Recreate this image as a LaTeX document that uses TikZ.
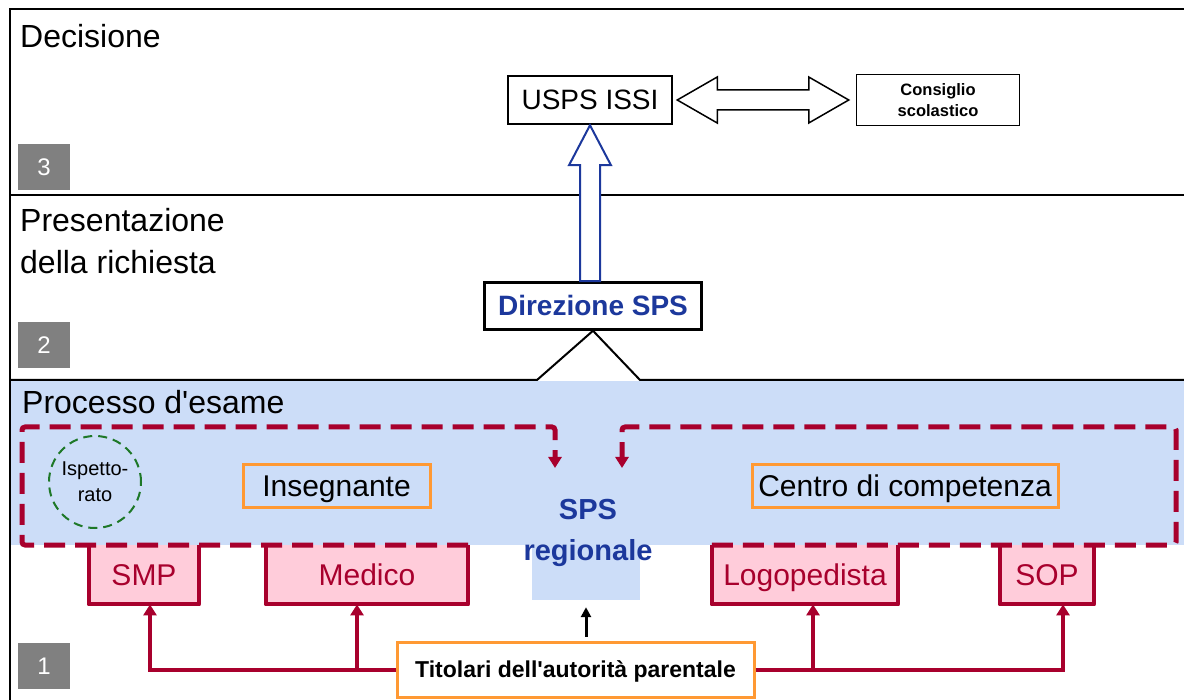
\documentclass[tikz,border=0pt]{standalone}
\usepackage{fontspec}
\setmainfont{Liberation Sans}[Ligatures=TeXOff]
\usetikzlibrary{arrows.meta,calc}
\definecolor{bgblue}{RGB}{204,221,248}
\definecolor{redc}{RGB}{168,0,45}
\definecolor{pinkc}{RGB}{255,204,218}
\definecolor{orangec}{RGB}{255,153,51}
\definecolor{bluec}{RGB}{28,56,156}
\definecolor{greyc}{RGB}{128,128,128}
\definecolor{greenc}{RGB}{30,120,40}
\newcommand\fsz[2]{\fontsize{#1}{#2}\selectfont}
\tikzset{
  btthirty/.style={font=\fsz{30}{34}, text height=24.5pt, text depth=3pt},
  bttwentyeight/.style={text height=23pt, text depth=3pt},
  frameline/.style={draw=black, line width=2pt},
  blackbox/.style={draw=black, line width=2.5pt, fill=white, inner sep=0pt, bttwentyeight},
  orangebox/.style={draw=orangec, line width=3pt, inner sep=0pt, btthirty},
  redbox/.style={fill=pinkc, inner sep=0pt, text=redc, anchor=north, minimum height=59pt, btthirty},
  numbox/.style={fill=greyc, text=white, minimum width=52pt, minimum height=46pt, inner sep=0pt, font=\fsz{24}{28}},
  title/.style={anchor=base west, inner sep=0pt, font=\fsz{32}{42}, align=left},
  redside/.style={draw=redc, line width=4pt},
  reddash/.style={draw=redc, line width=5pt, dash pattern=on 21pt off 10pt, rounded corners=3pt},
  redline/.style={draw=redc, line width=4pt},
  tipr/.style={-{Triangle[length=11pt,width=13pt]}},
}
\begin{document}
\begin{tikzpicture}[x=1pt,y=-1pt]
\useasboundingbox (0,0) rectangle (1184,700);
% blue background of the exam process
\fill[bgblue] (10,381) rectangle (1184,545);
\node[fill=bgblue, minimum width=108pt, minimum height=56pt, inner sep=0pt] (patch) at (586,572) {};
% frame
\draw[frameline] (1184,9) -- (10,9) -- (10,700);
\draw[frameline] (10,195) -- (1184,195);
% section titles
\node[title] (t3) at (20,48) {Decisione};
\node[title] (t2) at (20,274) {Presentazione\\della richiesta};
\node[title] (t1) at (22,414) {Processo d'esame};
% number boxes
\node[numbox] (n3) at (44,167) {3};
\node[numbox] (n2) at (44,345) {2};
\node[numbox] (n1) at (44,666) {1};
% decision level
\node[blackbox, minimum width=164pt, minimum height=48pt, font=\fsz{28}{34}] (usps) at (590,100) {USPS ISSI};
\node[draw=black, fill=white, inner sep=0pt, line width=1.5pt, minimum width=163pt, minimum height=51pt, font=\bfseries\fsz{16.5}{21}, align=center] (cons) at (938,100) {Consiglio\\scolastico};
\coordinate (L) at ($(usps.east)+(4,0)$);
\coordinate (R) at ($(cons.west)+(-7,0)$);
\draw[line width=1.5pt, fill=white] (L) -- ($(L)+(40,-23)$) -- ($(L)+(40,-10)$) -- ($(R)+(-40,-10)$) -- ($(R)+(-40,-23)$) -- (R) -- ($(R)+(-40,23)$) -- ($(R)+(-40,10)$) -- ($(L)+(40,10)$) -- ($(L)+(40,23)$) -- cycle;
% presentation level
\node[blackbox, minimum width=217pt, minimum height=47pt, text=bluec, font=\bfseries\fsz{28}{32}] (dir) at (593,306) {Direzione SPS};
\coordinate (T) at (usps.south);
\draw[draw=bluec, line width=2pt, fill=white] (T) -- ($(T)+(21,40)$) -- ($(T)+(10,40)$) -- ($(T |- dir.north)+(10,0)$) -- ($(T |- dir.north)+(-10,0)$) -- ($(T)+(-10,40)$) -- ($(T)+(-21,40)$) -- cycle;
\draw[frameline] (10,380) -- (537,380) -- (dir.south) -- (640,380) -- (1184,380);
% exam process level
\node[circle, draw=greenc, line width=2pt, dash pattern=on 9pt off 6pt, minimum size=92pt, inner sep=0pt, align=center, font=\fsz{20}{26}] (isp) at (95,482) {Ispetto-\\rato};
\node[orangebox, minimum width=187pt, minimum height=42pt] (ins) at (336.5,486) {Insegnante};
\node[orangebox, minimum width=306pt, minimum height=42pt] (cen) at (905,486) {Centro di competenza};
\node[align=center, text=bluec, font=\bfseries\fsz{29}{41}, inner sep=0pt] (sps) at (588,533) {SPS\\regionale};
% red boxes
\node[redbox, minimum width=110pt] (smp) at (144,545) {SMP};
\node[redbox, minimum width=202pt] (med) at (367,545) {Medico};
\node[redbox, minimum width=186pt] (logo) at (805,545) {Logopedista};
\node[redbox, minimum width=94pt] (sop) at (1047,545) {SOP};
\foreach \b in {smp,med,logo,sop}{
  \draw[redside, line join=round] (\b.north west) -- (\b.south west) -- (\b.south east) -- (\b.north east);
}
% dashed connectors to SPS regionale
\coordinate (cL) at (22,427);
\coordinate (cR) at (1176,427);
\coordinate (tipL) at (555,468);
\coordinate (tipR) at (622,468);
\draw[reddash, tipr] (med.north east) -- (med.north east -| cL) -- (cL) -| (tipL);
\draw[reddash, tipr] (logo.north west) -- (logo.north west -| cR) -- (cR) -| (tipR);
% parents
\node[draw=orangec, line width=3pt, inner sep=0pt, fill=white, minimum width=357pt, minimum height=55pt, font=\bfseries\fsz{23}{26}, text height=19pt, text depth=2.5pt] (tit) at (575.5,669.5) {Titolari dell'autorità parentale};
\coordinate (aS) at ($(smp.south)+(6,0)$);
\coordinate (aM) at ($(med.south)+(-10,0)$);
\coordinate (aL) at ($(logo.south)+(8,0)$);
\coordinate (aO) at ($(sop.south)+(16,0)$);
\draw[redline, tipr] (tit.west) -| (aS);
\draw[redline, tipr] (aM |- tit.west) -- (aM);
\draw[redline, tipr] (tit.east) -| (aO);
\draw[redline, tipr] (aL |- tit.east) -- (aL);
\draw[line width=3pt, -{Triangle[length=10pt,width=10pt]}, shorten <=4pt, shorten >=7pt] (tit.north -| patch.south) -- (patch.south);
\end{tikzpicture}
\end{document}
